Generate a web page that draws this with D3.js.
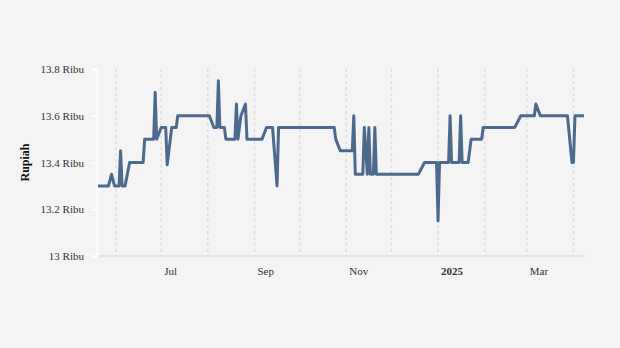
<!DOCTYPE html>
<html>
<head>
<meta charset="utf-8">
<script src="https://cdn.jsdelivr.net/npm/d3@7"></script>
<style>
  html, body { margin: 0; padding: 0; background: #f4f4f4; }
  svg { display: block; }
  text { font-family: "Liberation Serif", "Times New Roman", serif; }
</style>
</head>
<body>
<svg id="chart" width="620" height="348"></svg>
<script>
// Daily price series (Rupiah), only the days where the line turns
const dates = [
  "2024-05-20","2024-05-27","2024-05-29","2024-05-31","2024-06-03","2024-06-04","2024-06-05","2024-06-07",
  "2024-06-10","2024-06-19","2024-06-20","2024-06-26","2024-06-27","2024-06-28","2024-07-01","2024-07-04",
  "2024-07-05","2024-07-08","2024-07-11","2024-07-12","2024-08-02","2024-08-05","2024-08-07","2024-08-08",
  "2024-08-09","2024-08-12","2024-08-13","2024-08-19","2024-08-20","2024-08-21","2024-08-23","2024-08-26",
  "2024-08-27","2024-09-06","2024-09-09","2024-09-13","2024-09-16","2024-09-17","2024-10-24","2024-10-25",
  "2024-10-28","2024-11-05","2024-11-06","2024-11-07","2024-11-12","2024-11-13","2024-11-15","2024-11-16",
  "2024-11-17","2024-11-19","2024-11-20","2024-11-21","2024-12-19","2024-12-23","2024-12-31","2025-01-01",
  "2025-01-02","2025-01-08","2025-01-09","2025-01-10","2025-01-15","2025-01-16","2025-01-17","2025-01-21",
  "2025-01-22","2025-01-23","2025-01-30","2025-01-31","2025-02-21","2025-02-25","2025-03-06","2025-03-07",
  "2025-03-10","2025-03-28","2025-03-31","2025-04-01","2025-04-02","2025-04-08"
];
const prices = [
  13300,13300,13350,13300,13300,13450,13300,13300,
  13400,13400,13500,13500,13700,13500,13550,13550,
  13390,13550,13550,13600,13600,13550,13550,13750,
  13550,13550,13500,13500,13650,13500,13600,13650,
  13500,13500,13550,13550,13300,13550,13550,13500,
  13450,13450,13600,13350,13350,13550,13350,13550,
  13350,13350,13550,13350,13350,13400,13400,13150,
  13400,13400,13600,13400,13400,13600,13400,13400,
  13450,13500,13500,13550,13550,13600,13600,13650,
  13600,13600,13400,13400,13600,13600
];
const yTicks = [13000, 13200, 13400, 13600, 13800];
const xTickLabels = ["Jul", "Sep", "Nov", "2025", "Mar"];

const parse = d3.timeParse("%Y-%m-%d");
const data = dates.map((d, i) => ({ date: parse(d), value: prices[i] }));

const svg = d3.select("#chart");
const plotLeft = 97, plotRight = 585, plotTop = 69, plotBottom = 256;

const x = d3.scaleTime()
  .domain(d3.extent(data, d => d.date))
  .range([plotLeft + 1, plotRight - 1]);
const y = d3.scaleLinear().domain([13000, 13800]).range([plotBottom, plotTop]);

// monthly dashed gridlines
const months = d3.timeMonth.range(new Date(2024, 5, 1), new Date(2025, 3, 2));
svg.append("g").selectAll("line").data(months).join("line")
  .attr("x1", d => x(d)).attr("x2", d => x(d))
  .attr("y1", plotTop).attr("y2", plotBottom)
  .attr("stroke", "#dedede").attr("stroke-width", 1.5)
  .attr("stroke-dasharray", "3,3");

// x axis baseline
svg.append("line")
  .attr("x1", plotLeft).attr("x2", plotRight).attr("y1", plotBottom).attr("y2", plotBottom)
  .attr("stroke", "#e0e0e0").attr("stroke-width", 1.5);

// x tick labels on every other month
const labelMonths = months.filter((d, i) => i % 2 === 1);
svg.append("g").selectAll("text").data(labelMonths).join("text")
  .attr("x", d => x(d) + 3)
  .attr("y", 275)
  .attr("font-size", 11)
  .attr("fill", "#333")
  .attr("font-weight", (d, i) => xTickLabels[i] === "2025" ? "bold" : "normal")
  .text((d, i) => xTickLabels[i]);

// y axis
const yAxis = d3.axisLeft(y)
  .tickValues(yTicks)
  .tickSize(6)
  .tickPadding(7)
  .tickFormat(d => d3.format("~g")(d / 1000) + " Ribu");
const ga = svg.append("g").attr("transform", `translate(${plotLeft},0)`).call(yAxis);
ga.select(".domain").attr("stroke", "#ffffff").attr("stroke-width", 2);
ga.selectAll(".tick line").attr("stroke", "#ffffff").attr("stroke-width", 1.5);
ga.selectAll(".tick text")
  .attr("font-family", "'Liberation Serif', 'Times New Roman', serif")
  .attr("font-size", 11).attr("fill", "#333");

svg.append("text")
  .attr("transform", `translate(29,${(plotTop + plotBottom) / 2}) rotate(-90)`)
  .attr("text-anchor", "middle")
  .attr("font-size", 12).attr("font-weight", "bold").attr("fill", "#111")
  .text("Rupiah");

// price line
const line = d3.line().x(d => x(d.date)).y(d => y(d.value));
svg.append("path").datum(data)
  .attr("d", line)
  .attr("fill", "none")
  .attr("stroke", "#4d6a8e")
  .attr("stroke-width", 3)
  .attr("stroke-linejoin", "round");
</script>
</body>
</html>
